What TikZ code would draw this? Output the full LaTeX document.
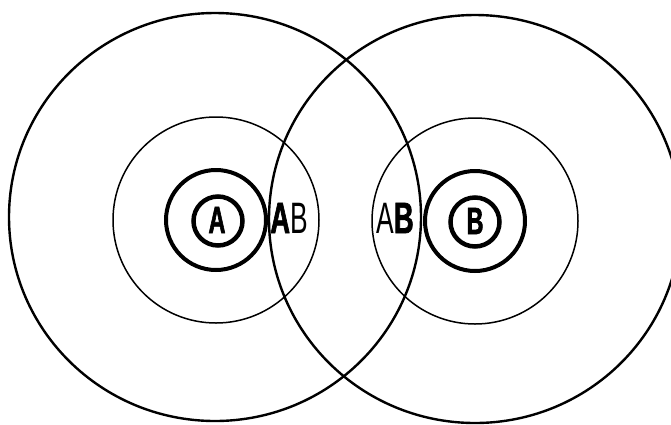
\documentclass[tikz,border=0pt]{standalone}
\usepackage{fontspec}
\newfontfamily\narrowsans[FakeStretch=0.6]{Liberation Sans}
\newfontfamily\narrowbold[FakeStretch=0.62,FakeBold=1.5]{Liberation Sans Bold}
\tikzset{
  bigring/.style={line width=2.4pt},
  midring/.style={line width=1.5pt},
  innerring/.style={line width=4pt},
  letterring/.style={line width=4.5pt},
  pairlabel/.style={font=\narrowsans\fontsize{44}{44}\selectfont, inner sep=0pt},
  centerlabel/.style={font=\narrowbold\fontsize{38}{38}\selectfont, inner sep=0pt}
}
\begin{document}
\begin{tikzpicture}[x=1pt,y=-1pt]
\useasboundingbox (0,0) rectangle (671,424);
\fill[white] (0,0) rectangle (671,424);
% centres
\coordinate (cA) at (216,220);
\coordinate (cB) at (475,221);
% big rings
\draw[bigring] (215,217) ellipse [x radius=206, y radius=204];
\draw[bigring] (cB) ++(0,-2) ellipse [x radius=206, y radius=204];
% middle rings
\draw[midring] (cA) circle [radius=103];
\draw[midring] (cB) circle [radius=103];
% inner rings
\draw[innerring] (cA) circle [radius=50];
\draw[innerring] (cB) circle [radius=50];
% letter rings
\draw[letterring] (218,221) circle [radius=24.5];
\draw[letterring] (475,222) circle [radius=24.5];
% letters
\node[centerlabel] (A) at (217,220) {A};
\node[centerlabel] (B) at (475,221) {B};
\node[pairlabel] (ABl) at (289,218) {{\narrowbold A}B};
\node[pairlabel] (ABr) at (395,218) {A{\narrowbold B}};
\end{tikzpicture}
\end{document}
